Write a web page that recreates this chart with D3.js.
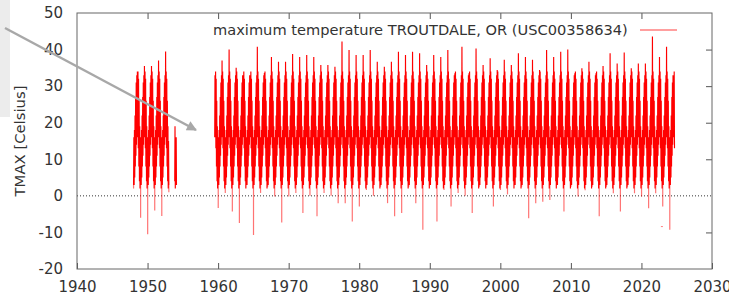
<!DOCTYPE html>
<html>
<head>
<meta charset="utf-8">
<script src="https://cdn.jsdelivr.net/npm/d3@7"></script>
<style>
  body { margin: 0; background: #fff; }
  svg text { font-family: "DejaVu Sans", sans-serif; fill: #333; }
</style>
</head>
<body>
<div id="chart"></div>
<script>
// years of the record, one entry per calendar year
var years = d3.range(1948, 2025);

// summer peak of daily TMAX per year (Celsius), null where no data
var tmaxHigh = [
  34, 35.5, 35.5, 37, 39.5, null, null, null, null, null, null, 33,
  37, 40, 35, 33, 33, 40.8, 33.6, 38, 36.7, 36.7,
  38.8, 38, 38.5, 38, 35.8, 35.8, 35.3, 42.2, 39.9, 38.5,
  38.5, 39.9, 36.7, 35.3, 36.7, 39.4, 38.5, 39.4, 39, 35.8,
  38.5, 38, 39.9, 33.5, 40.8, 33.5, 40.3, 35.8, 37.6, 34.4,
  37.2, 35.8, 39, 38, 37.2, 34.4, 39.9, 38, 39.4, 40,
  33.5, 34.9, 36.7, 33.5, 35.5, 39, 36.2, 39.2, 34.9, 36.2,
  36.2, 43.6, 38, 40.8, 32.6
];

// winter low of daily TMAX per year (Celsius), null where no data
var tmaxLow = [
  2, -6, -10.5, -4, -5.5, 1, 5, null, null, null, null, null,
  -3.3, 0.8, -4.3, -7.4, 4.4, -10.7, 0.8, 2.5, -0.2, -7.3,
  -0.2, 0.8, -4.7, 0, -5.6, 0.8, 0, -2, -2, -7,
  -2.9, 1.6, 0, 2.5, -2, -5.6, -4.7, 2.5, -2, -9.3,
  3, -7, 1.6, -2.9, 0.8, 0, -4.7, 2.5, 5.3, -2.9,
  1.6, 0.4, 3.8, 2.5, -6.1, -2, -1.6, -1.1, 3.5, -4.3,
  2.5, -0.2, 1.5, 2.5, -5.6, 2.5, 0.7, -4.3, 2.5, 0.7,
  -0.2, -3.4, 0.7, -2.9, -9.3
];

// typical monthly spread of daily TMAX (Jan low / Jul high come from the yearly arrays)
var monthLo = [null, 3, 5, 8, 11, 14, 16, 17, 13, 8, 4, 2];
var monthHi = [16, 18, 22, 27, 31, 33, null, 34, 32, 26, 19, 15];

// periods that have observations
var coverage = [[1948.0, 1953.05], [1953.85, 1954.1], [1959.5, 2024.7]];

// lone observation outside the band
var strayT = [2022.9];
var strayV = [-8.4];

var xTicks = d3.range(1940, 2031, 10);
var yTicks = d3.range(-20, 51, 10);

var width = 729, height = 296;
var margin = { left: 77, right: 17, top: 13, bottom: 27 };

var svg = d3.select("#chart").append("svg")
  .attr("width", width)
  .attr("height", height);

var x = d3.scaleLinear().domain([1940, 2030]).range([margin.left, width - margin.right]);
var y = d3.scaleLinear().domain([-20, 50]).range([height - margin.bottom, margin.top]);

function covered(t) {
  return coverage.some(function (c) { return t >= c[0] && t <= c[1]; });
}

// build the zig-zag of daily values: one low and one high per month
var points = [];
var spikes = [];
years.forEach(function (yr, i) {
  for (var m = 0; m < 12; m++) {
    var lo = m === 0 ? tmaxLow[i] : monthLo[m];
    var hi = m === 6 ? tmaxHigh[i] : monthHi[m];
    var tLo = yr + (m + 0.2) / 12, tHi = yr + (m + 0.7) / 12;
    if (m === 0 && lo != null && lo < 3 && covered(tLo)) {
      spikes.push({ t: tLo, v0: 3, v1: lo });
      lo = 3;
    }
    points.push({ t: tLo, v: lo });
    points.push({ t: tHi, v: hi });
  }
});

var line = d3.line()
  .defined(function (d) { return d.v != null && covered(d.t); })
  .x(function (d) { return x(d.t); })
  .y(function (d) { return y(d.v); });

// zero line
svg.append("line")
  .attr("x1", x(1940)).attr("x2", x(2030))
  .attr("y1", y(0)).attr("y2", y(0))
  .attr("stroke", "#333")
  .attr("stroke-width", 1)
  .attr("stroke-dasharray", "1,2");

// cold spikes
svg.append("g").selectAll("line")
  .data(spikes)
  .enter().append("line")
  .attr("x1", function (d) { return x(d.t); })
  .attr("x2", function (d) { return x(d.t); })
  .attr("y1", function (d) { return y(d.v0); })
  .attr("y2", function (d) { return y(d.v1); })
  .attr("stroke", "rgba(255,0,0,0.55)")
  .attr("stroke-width", 1.2);

svg.append("path")
  .datum(points)
  .attr("d", line)
  .attr("fill", "none")
  .attr("stroke", "#ff0000")
  .attr("stroke-width", 1.15);

svg.selectAll(".stray")
  .data(strayT)
  .enter().append("rect")
  .attr("class", "stray")
  .attr("x", function (d) { return x(d) - 1; })
  .attr("y", function (d, i) { return y(strayV[i]) - 0.5; })
  .attr("width", 2).attr("height", 1)
  .attr("fill", "rgba(255,0,0,0.5)");

// plain hyphen for negatives, like the original plot
var fmt = function (d) { return String(d); };

// axes
var axBottom = svg.append("g")
  .attr("transform", "translate(0," + y(-20) + ")")
  .call(d3.axisBottom(x).tickValues(xTicks).tickFormat(fmt)
    .tickSizeInner(-6).tickSizeOuter(0).tickPadding(12));
var axTop = svg.append("g")
  .attr("transform", "translate(0," + y(50) + ")")
  .call(d3.axisTop(x).tickValues(xTicks.slice(1, -1)).tickFormat("")
    .tickSizeInner(-6).tickSizeOuter(0));
var axRight = svg.append("g")
  .attr("transform", "translate(" + x(2030) + ",0)")
  .call(d3.axisRight(y).tickValues(yTicks.slice(1, -1).filter(function (v) { return v !== 0; })).tickFormat("")
    .tickSizeInner(-6).tickSizeOuter(0));
var axLeft = svg.append("g")
  .attr("transform", "translate(" + x(1940) + ",0)")
  .call(d3.axisLeft(y).tickValues(yTicks).tickFormat(fmt)
    .tickSizeInner(0).tickSizeOuter(0).tickPadding(14));

[axBottom, axTop, axRight, axLeft].forEach(function (g) {
  g.select(".domain").remove();
  g.selectAll(".tick line").attr("stroke", "#555");
  g.selectAll("text").attr("font-size", 15).attr("fill", "#333")
    .style("font-family", "DejaVu Sans, sans-serif");
});
axLeft.selectAll(".tick line").remove();

// frame
svg.append("rect")
  .attr("x", x(1940)).attr("y", y(50))
  .attr("width", x(2030) - x(1940))
  .attr("height", y(-20) - y(50))
  .attr("fill", "none")
  .attr("stroke", "#666")
  .attr("stroke-width", 1);

// y label
var yl = svg.append("text")
  .attr("transform", "translate(25," + 141 + ") rotate(-90)")
  .attr("text-anchor", "middle")
  .attr("font-size", 14)
  .text("TMAX [Celsius]");
var yw = yl.node().getComputedTextLength();
yl.attr("font-size", 14 * 111 / yw);

// legend
var lt = svg.append("text")
  .attr("x", 213).attr("y", 35)
  .attr("font-size", 14)
  .text("maximum temperature TROUTDALE, OR (USC00358634)");
var lw = lt.node().getComputedTextLength();
lt.attr("font-size", 14 * 415 / lw);
svg.append("line")
  .attr("x1", 640).attr("x2", 677)
  .attr("y1", 30).attr("y2", 30)
  .attr("stroke", "#ff7f7f")
  .attr("stroke-width", 1.5);

// overlay annotation: grey strip and arrow
svg.append("rect")
  .attr("x", 0).attr("y", 0).attr("width", 10).attr("height", 117)
  .attr("fill", "#ececec");
svg.append("defs").append("marker")
  .attr("id", "head")
  .attr("viewBox", "0 0 10 10")
  .attr("refX", 9).attr("refY", 5)
  .attr("markerWidth", 5).attr("markerHeight", 4)
  .attr("markerUnits", "strokeWidth")
  .attr("orient", "auto")
  .append("path")
  .attr("d", "M0,0L10,5L0,10Z")
  .attr("fill", "#a8a8a8");
svg.append("line")
  .attr("x1", 5).attr("y1", 28)
  .attr("x2", 196).attr("y2", 130)
  .attr("stroke", "#a8a8a8")
  .attr("stroke-width", 2.5)
  .attr("marker-end", "url(#head)");
</script>
</body>
</html>
